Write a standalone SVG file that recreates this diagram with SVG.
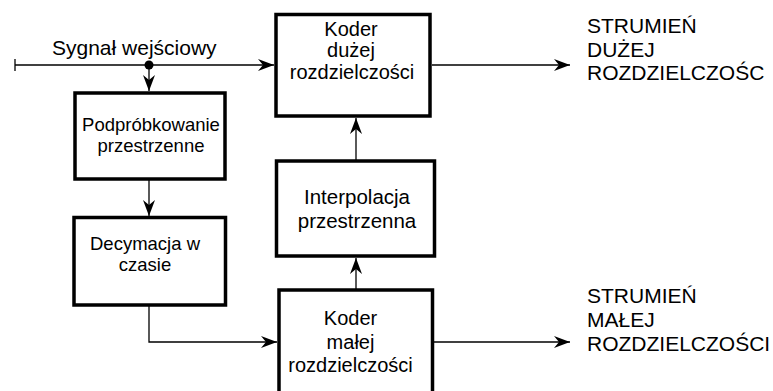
<svg xmlns="http://www.w3.org/2000/svg" width="773" height="391" viewBox="0 0 773 391">
<defs>
<style>
.box{fill:#fff;stroke:#000;stroke-width:3.5}
.ln{fill:none;stroke:#000;stroke-width:1.3}
text{font-family:"Liberation Sans",Arial,sans-serif;fill:#000}
.b{font-size:20px;text-anchor:middle}
.s{font-size:18.5px;text-anchor:middle}
.o{font-size:21px}
</style>
<marker id="ah" viewBox="-16 -7 17 14" refX="0" refY="0" markerWidth="17" markerHeight="14" markerUnits="userSpaceOnUse" orient="auto">
<path d="M0,0 L-16,-6 L-11,0 L-16,6 Z" fill="#000"/>
</marker>
</defs>
<rect width="773" height="391" fill="#fff"/>
<g id="connectors">
<line class="ln" x1="15" y1="59" x2="15" y2="71"/>
<line class="ln" x1="15" y1="65" x2="274" y2="65" marker-end="url(#ah)"/>
<circle cx="149" cy="65" r="4.5" fill="#000"/>
<line class="ln" x1="149" y1="65" x2="149" y2="91" marker-end="url(#ah)"/>
<line class="ln" x1="149" y1="179" x2="149" y2="216" marker-end="url(#ah)"/>
<polyline class="ln" points="149,305 149,342 277,342" marker-end="url(#ah)"/>
<line class="ln" x1="432" y1="65" x2="570" y2="65" marker-end="url(#ah)"/>
<line class="ln" x1="433" y1="342" x2="570" y2="342" marker-end="url(#ah)"/>
<line class="ln" x1="356" y1="160" x2="356" y2="118" marker-end="url(#ah)"/>
<line class="ln" x1="356" y1="290" x2="356" y2="258" marker-end="url(#ah)"/>
</g>
<text class="o" x="52" y="55">Sygnał wejściowy</text>
<g id="podprobkowanie">
<rect class="box" x="75" y="93" width="150" height="86"/>
<text class="s" x="151" y="131">Podpróbkowanie</text>
<text class="s" x="151" y="152">przestrzenne</text>
</g>
<g id="decymacja">
<rect class="box" x="74" y="217.5" width="151.5" height="87.5"/>
<text class="s" x="145" y="250">Decymacja w</text>
<text class="s" x="145" y="271">czasie</text>
</g>
<g id="koder-duzej">
<rect class="box" x="276" y="14.5" width="154" height="101.5"/>
<text class="b" x="351" y="35.5">Koder</text>
<text class="b" x="351" y="57.3">dużej</text>
<text class="b" x="352" y="79">rozdzielczości</text>
</g>
<g id="interpolacja">
<rect class="box" x="276.5" y="161" width="158" height="95"/>
<text class="b" x="357" y="204.3" style="font-size:20.5px">Interpolacja</text>
<text class="b" x="357" y="228.3" style="font-size:20.5px">przestrzenna</text>
</g>
<g id="koder-malej">
<rect class="box" x="279" y="290" width="153.5" height="120"/>
<text class="b" x="350.5" y="325">Koder</text>
<text class="b" x="350.5" y="348.5">małej</text>
<text class="b" x="350.5" y="372">rozdzielczości</text>
</g>
<g id="out-duzej">
<text class="o" x="587" y="33">STRUMIEŃ</text>
<text class="o" x="587" y="57">DUŻEJ</text>
<text class="o" x="587" y="80">ROZDZIELCZOŚC</text>
</g>
<g id="out-malej">
<text class="o" x="587" y="303">STRUMIEŃ</text>
<text class="o" x="587" y="327">MAŁEJ</text>
<text class="o" x="587" y="351">ROZDZIELCZOŚCI</text>
</g>
</svg>
